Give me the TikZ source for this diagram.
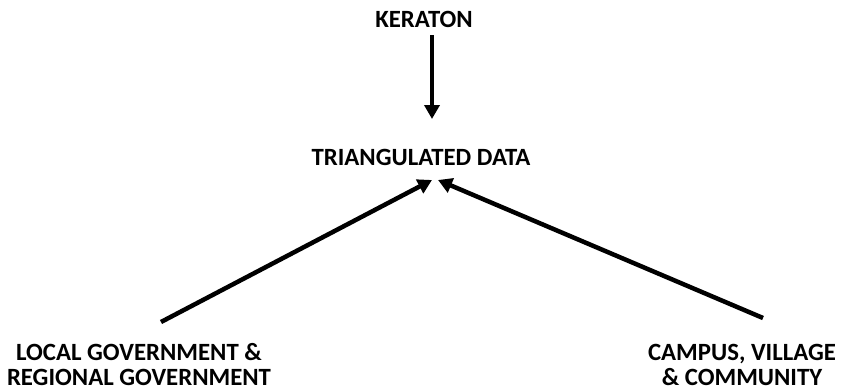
\documentclass[tikz,border=0pt]{standalone}
\usepackage{fontspec}
\setmainfont{Carlito}
\usetikzlibrary{arrows.meta}
\begin{document}
\begin{tikzpicture}[x=1pt,y=-1pt,
  lbl/.style={font=\bfseries\fontsize{24.8}{25}\selectfont, align=center, inner sep=0pt},
  conn/.style={line width=4.5pt, -{Triangle[length=14pt,width=15pt]}}]
\useasboundingbox (0,0) rectangle (841,391);
\node[lbl] (ker) at (424,19) {KERATON};
\node[lbl] (tri) at (421,157) {TRIANGULATED DATA};
\node[lbl] (loc) at (139,365) {LOCAL GOVERNMENT \&\\REGIONAL GOVERNMENT};
\node[lbl] (cam) at (742,365) {CAMPUS, VILLAGE\\\& COMMUNITY};
\coordinate (kS) at (432,35);
\coordinate (kT) at (432,119);
\coordinate (lS) at (161,322);
\coordinate (lT) at (432,180);
\coordinate (rS) at (763,318);
\coordinate (rT) at (438,180);
\draw[conn] (kS) -- (kT);
\draw[conn] (lS) -- (lT);
\draw[conn] (rS) -- (rT);
\end{tikzpicture}
\end{document}
